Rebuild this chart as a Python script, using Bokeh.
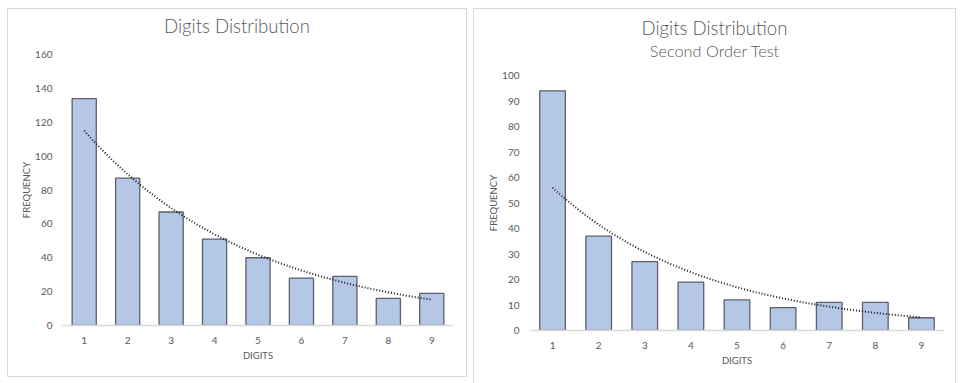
import numpy as np
from bokeh.plotting import figure
from bokeh.layouts import row, column, Spacer
from bokeh.models import FixedTicker, Range1d, ColumnDataSource, Div
from bokeh.embed import file_html
from bokeh.resources import INLINE

digits = [1, 2, 3, 4, 5, 6, 7, 8, 9]
first_freq = [134, 87, 67, 51, 40, 28, 29, 16, 19]
second_freq = [94, 37, 27, 19, 12, 9, 11, 11, 5]
first_yticks = [0, 20, 40, 60, 80, 100, 120, 140, 160]
second_yticks = [0, 10, 20, 30, 40, 50, 60, 70, 80, 90, 100]
title_main = "Digits Distribution"
title_sub = "Second Order Test"

FONT = "Lato"
GRAY = "#595959"
BAR_FILL = "#B4C7E7"
BAR_LINE = "#5B6069"
EDGE = "#D9D9D9"


def make_fig(freq, yticks, width, height, mb):
    p = figure(width=width, height=height, output_backend="svg", toolbar_location=None,
               x_range=Range1d(0.5, 9.5), y_range=Range1d(yticks[0], yticks[-1]),
               min_border_left=mb[0], min_border_right=mb[1], min_border_top=mb[2],
               min_border_bottom=mb[3], background_fill_color="white",
               border_fill_color="white", outline_line_color=None, margin=0)
    p.title = None
    src = ColumnDataSource(dict(x=digits, top=freq))
    p.vbar(x="x", top="top", width=0.556, source=src, fill_color=BAR_FILL,
           line_color=BAR_LINE, line_width=1.3)
    # exponential trendline: least-squares fit of the log values (spreadsheet-style trendline)
    b, a = np.polyfit(np.array(digits, float), np.log(np.array(freq, float)), 1)
    xs = np.linspace(digits[0], digits[-1], 120)
    p.line(xs, np.exp(a + b * xs), line_color="#1a1a1a", line_width=2, line_dash="1 2")

    p.xgrid.visible = False
    p.ygrid.visible = False
    p.xaxis.ticker = FixedTicker(ticks=digits)
    p.yaxis.ticker = FixedTicker(ticks=yticks)
    for ax in (p.xaxis, p.yaxis):
        ax.major_tick_line_color = None
        ax.minor_tick_line_color = None
        ax.major_label_text_font = FONT
        ax.major_label_text_font_size = "10px"
        ax.major_label_text_color = GRAY
        ax.axis_label_text_font = FONT
        ax.axis_label_text_font_size = "9.5px"
        ax.axis_label_text_color = GRAY
        ax.axis_label_text_font_style = "normal"
    p.xaxis.axis_line_color = EDGE
    p.xaxis.axis_line_width = 1.5
    p.yaxis.axis_line_color = None
    p.xaxis.axis_label = "DIGITS"
    p.yaxis.axis_label = "FREQUENCY"
    p.xaxis.major_label_standoff = 5
    p.yaxis.major_label_standoff = 4
    p.xaxis.axis_label_standoff = 3
    p.yaxis.axis_label_standoff = 0
    return p


def title_html(lines, width):
    parts = []
    for txt, size, lh, pad in lines:
        parts.append(
            f'<div style="width:{width}px;font-family:Lato;font-weight:300;font-size:{size}px;'
            f'line-height:{lh}px;padding-top:{pad}px;color:{GRAY};text-align:center;'
            f'white-space:nowrap;">{txt}</div>')
    return "".join(parts)


# left panel (content 458 x 367 inside a 1px border)
left_fig = make_fig(first_freq, first_yticks, 458, 321, (54, 13, 5, 45))
left_title = Div(text=title_html([(title_main, 18.6, 22, 6)], 458), width=458, height=40,
                 margin=0)
left_col = column(left_title, left_fig, Spacer(width=458, height=6, margin=0),
                  styles={"border": f"1px solid {EDGE}"}, margin=0)

# right panel (content 481 x 374, open at the bottom)
right_fig = make_fig(second_freq, second_yticks, 481, 305, (55, 11, 5, 45))
right_title = Div(text=title_html([(title_main, 18.6, 22, 8), (title_sub, 16.3, 20, 2)], 481),
                  width=481, height=61, margin=0)
right_col = column(right_title, right_fig, Spacer(width=481, height=8, margin=0),
                   styles={"border-top": f"1px solid {EDGE}",
                           "border-left": f"1px solid {EDGE}",
                           "border-right": f"1px solid {EDGE}"}, margin=0)

panels = row(Spacer(width=7, height=10, margin=0), left_col,
             Spacer(width=6, height=10, margin=0), right_col, margin=0)
layout = column(Spacer(width=10, height=8, margin=0), panels, margin=0)
open("out.html", "w").write(file_html(layout, INLINE))
